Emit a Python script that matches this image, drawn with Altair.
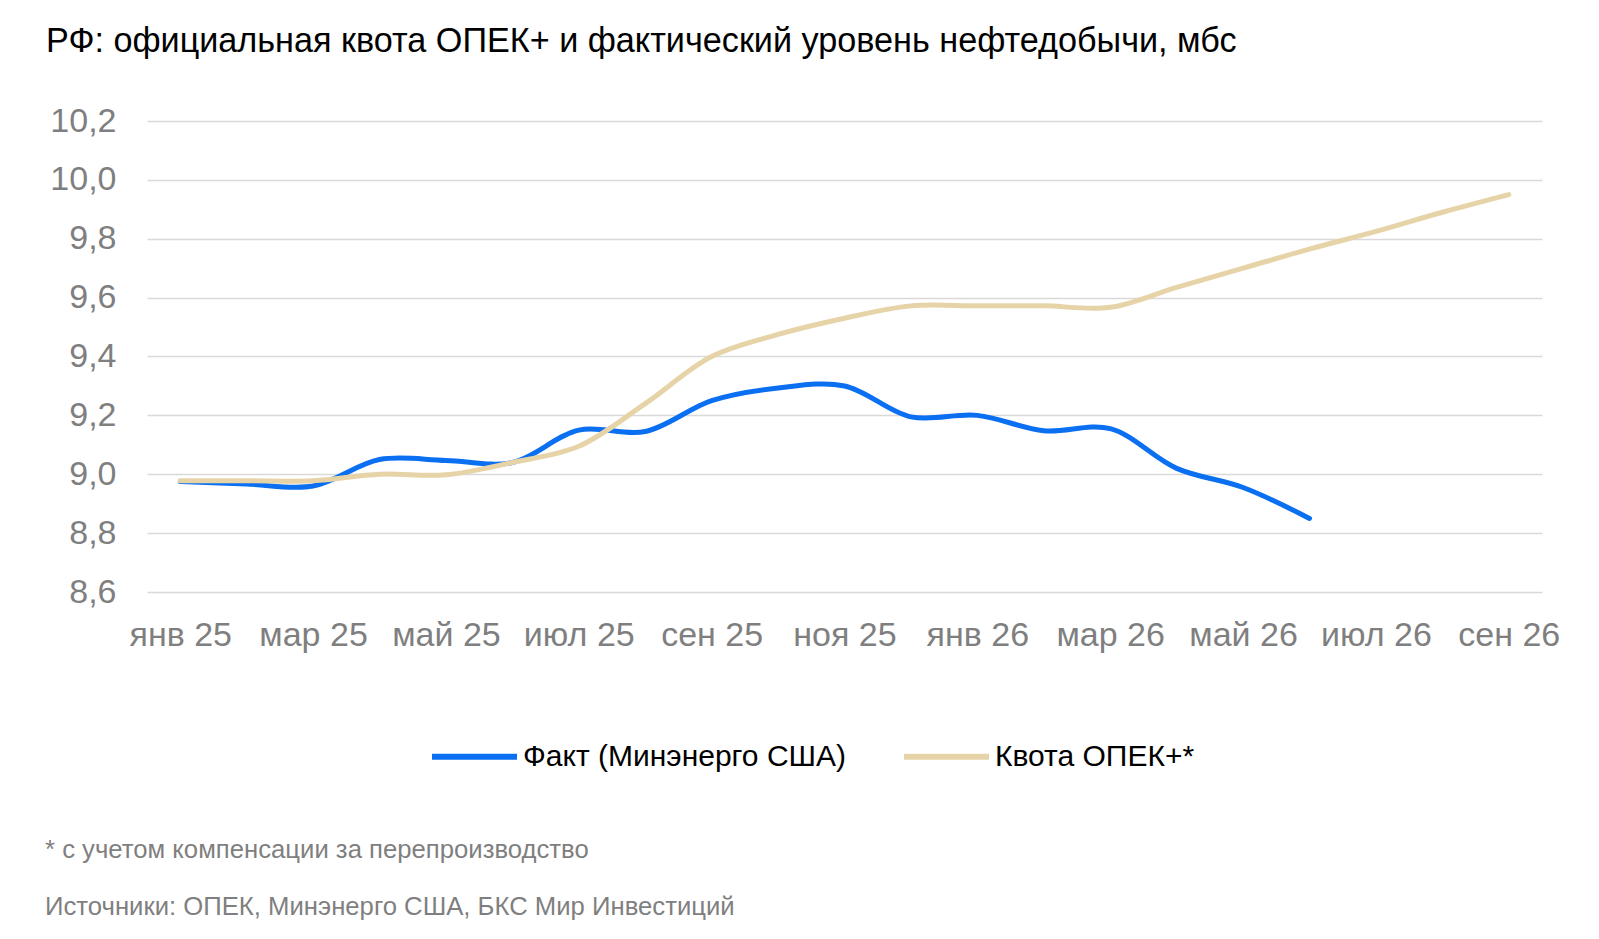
import altair as alt
import pandas as pd

months = ["янв 25", "фев 25", "мар 25", "апр 25", "май 25", "июн 25", "июл 25",
          "авг 25", "сен 25", "окт 25", "ноя 25", "дек 25", "янв 26", "фев 26",
          "мар 26", "апр 26", "май 26", "июн 26", "июл 26", "авг 26", "сен 26"]
tick_months = months[::2]

fact_name = "Факт (Минэнерго США)"
quota_name = "Квота ОПЕК+*"

fact = [8.975, 8.967, 8.96, 9.05, 9.047, 9.04, 9.15, 9.145, 9.25, 9.293, 9.30,
        9.195, 9.20, 9.148, 9.155, 9.02, 8.955, 8.85]
quota = [8.978, 8.978, 8.978, 9.0, 8.998, 9.04, 9.095, 9.24, 9.40, 9.475, 9.53,
         9.572, 9.572, 9.572, 9.567, 9.635, 9.70, 9.765, 9.825, 9.89, 9.95]

y_ticks = [8.6, 8.8, 9.0, 9.2, 9.4, 9.6, 9.8, 10.0, 10.2]

title_text = "РФ: официальная квота ОПЕК+ и фактический уровень нефтедобычи, мбс"
note1 = "* с учетом компенсации за перепроизводство"
note2 = "Источники: ОПЕК, Минэнерго США, БКС Мир Инвестиций"

rows = [{"month": m, "value": v, "series": fact_name} for m, v in zip(months, fact)]
rows += [{"month": m, "value": v, "series": quota_name} for m, v in zip(months, quota)]
df = pd.DataFrame(rows)

FONT = "Liberation Sans"
GRAY = "#7f7f7f"

x_enc = alt.X("month:O", sort=months, scale=alt.Scale(domain=months),
              axis=alt.Axis(values=tick_months, labelAngle=0, title=None, grid=False,
                            domain=False, ticks=False, labelFontSize=34,
                            labelColor=GRAY, labelFont=FONT, labelPadding=26))
y_enc = alt.Y("value:Q", scale=alt.Scale(domain=[8.6, 10.2], nice=False, zero=False),
              axis=alt.Axis(values=y_ticks, title=None, domain=False, ticks=False,
                            labelExpr="replace(format(datum.value, '.1f'), '.', ',')",
                            labelFontSize=34, labelColor=GRAY, labelFont=FONT,
                            labelPadding=31, gridColor="#d9d9d9", gridWidth=1.5))
color_enc = alt.Color("series:N",
                      scale=alt.Scale(domain=[fact_name, quota_name],
                                      range=["#0a6ff0", "#e6d3a8"]),
                      legend=alt.Legend(title=None, orient="none", direction="horizontal",
                                        legendX=282, legendY=590,
                                        symbolType="stroke", symbolSize=7225,
                                        symbolStrokeWidth=6, labelFontSize=30,
                                        labelFont=FONT, labelColor="#000000",
                                        labelOffset=3, columnPadding=45,
                                        labelLimit=600))

base = alt.Chart(df)
fact_line = base.transform_filter(alt.datum.series == fact_name).mark_line(
    interpolate="catmull-rom", strokeWidth=5, strokeCap="round"
).encode(x=x_enc, y=y_enc, color=color_enc)
quota_line = base.transform_filter(alt.datum.series == quota_name).mark_line(
    interpolate="catmull-rom", strokeWidth=5, strokeCap="round"
).encode(x=x_enc, y=y_enc, color=color_enc)

n1 = alt.Chart(pd.DataFrame({"t": [note1]})).mark_text(
    align="left", baseline="alphabetic", fontSize=25.7, font=FONT, color=GRAY
).encode(x=alt.value(-102), y=alt.value(737), text="t:N")
n2 = alt.Chart(pd.DataFrame({"t": [note2]})).mark_text(
    align="left", baseline="alphabetic", fontSize=25.7, font=FONT, color=GRAY
).encode(x=alt.value(-102), y=alt.value(794), text="t:N")

chart = alt.layer(fact_line, quota_line, n1, n2).properties(
    width=1395, height=471,
    autosize=alt.AutoSizeParams(type="none"),
    padding={"left": 139, "top": 113, "right": 40, "bottom": 335},
    title=alt.TitleParams(title_text, anchor="start", frame="group", dx=-101,
                          fontSize=34.2, font=FONT, fontWeight="normal",
                          color="#000000", baseline="alphabetic", offset=18),
).configure_view(stroke=None).configure_axis(labelFont=FONT)

chart.save("out.html", embed_options={"renderer": "svg", "actions": False})
